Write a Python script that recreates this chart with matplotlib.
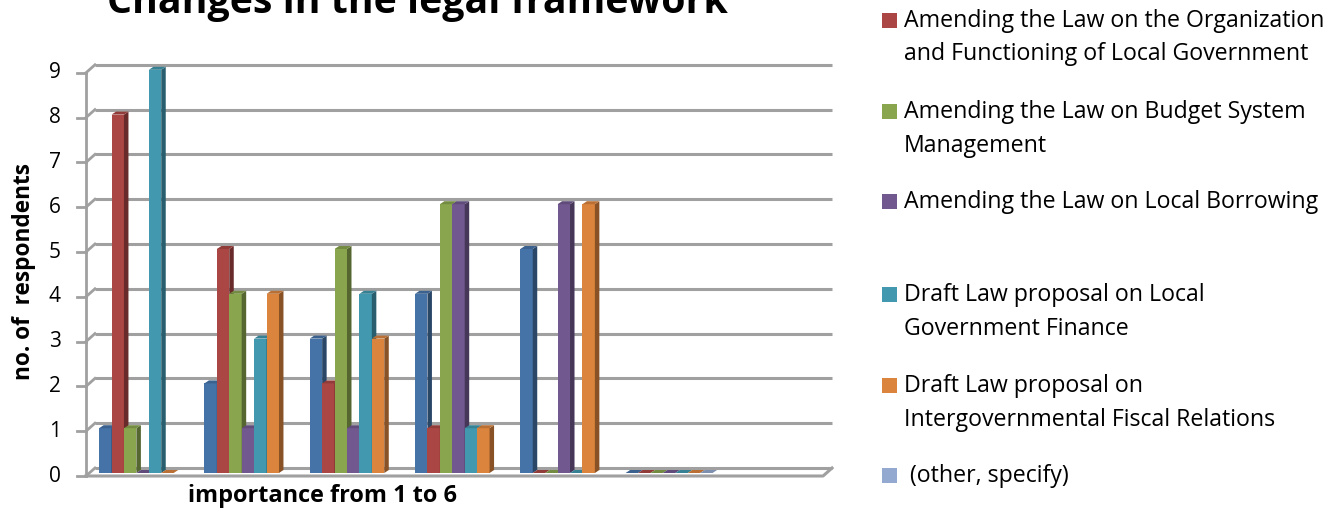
import numpy as np
import matplotlib
matplotlib.use("Agg")
import matplotlib.pyplot as plt
from matplotlib.patches import Polygon, Rectangle
from matplotlib.colors import to_rgb

FONT = ["Open Sans", "DejaVu Sans"]

# data
categories = ["1", "2", "3", "4", "5", "6", ""]
y_ticks = [0, 1, 2, 3, 4, 5, 6, 7, 8, 9]
series_names = [
    "",
    "Amending the Law on the Organization\nand Functioning of Local Government",
    "Amending the Law on Budget System\nManagement",
    "Amending the Law on Local Borrowing",
    "Draft Law proposal on Local\nGovernment Finance",
    "Draft Law proposal on\nIntergovernmental Fiscal Relations",
    " (other, specify)",
]
s_blue = [1, 2, 3, 4, 5, 0]
s_red = [8, 5, 2, 1, 0, 0]
s_green = [1, 4, 5, 6, 0, 0]
s_purple = [0, 1, 1, 6, 6, 0]
s_teal = [9, 3, 4, 1, 0, 0]
s_orange = [0, 4, 3, 1, 6, 0]
s_other = [np.nan, np.nan, np.nan, np.nan, np.nan, 0]
series = [s_blue, s_red, s_green, s_purple, s_teal, s_orange, s_other]
colors = ["#4572A7", "#AA4643", "#89A54E", "#71588F", "#4198AF", "#DB843D", "#93A9CF"]

W, H = 1332, 511
fig = plt.figure(figsize=(W / 100, H / 100), dpi=100)
renderer = fig.canvas.get_renderer()


def fit(t, target_px, horizontal=True):
    # scale font so the text spans target_px
    bb = t.get_window_extent(renderer)
    size = bb.width if horizontal else bb.height
    t.set_fontsize(t.get_fontsize() * target_px / size)
    return t.get_fontsize()


# pixel scale of the back wall
PXX, PXY = 105.3, 44.8
X0, Y0 = 147.6, 468.0
L, R, T, B = 40, 850, 40, 500
ax = fig.add_axes([L / W, (H - B) / H, (R - L) / W, (B - T) / H])
ax.set_xlim((L - X0) / PXX, (R - X0) / PXX)
ax.set_ylim((Y0 - B) / PXY, (Y0 - T) / PXY)
ax.axis("off")

grid_c = "#A0A0A0"
fdx, fdy = -9 / PXX, -8 / PXY          # front edge offset of walls / floor
bdx, bdy = -5 / PXX, -5 / PXY          # bar front plane offset
ddx, ddy = 4.5 / PXX, 3.0 / PXY        # bar depth
xl, xr = -0.5, len(categories) - 0.5

# back wall gridlines, side wall ticks
for v in y_ticks:
    ax.plot([xl, xr], [v, v], color=grid_c, lw=2.2, solid_capstyle="butt", zorder=1)
    ax.plot([xl + fdx, xl], [v + fdy, v], color=grid_c, lw=2, zorder=1)
    ax.plot([xl + fdx - 9 / PXX, xl + fdx], [v + fdy, v + fdy], color=grid_c, lw=2, zorder=1)
    ax.text(xl + fdx - 25 / PXX, v + fdy, str(v), ha="right", va="center",
            fontsize=15, family=FONT, color="#000000")
ax.plot([xl + fdx, xl + fdx], [fdy, y_ticks[-1] + fdy], color=grid_c, lw=2, zorder=1)
# floor
ax.plot([xl + fdx, xr + fdx, xr], [fdy, fdy, 0], color=grid_c, lw=2.2, zorder=1)


def shade(c, f):
    r, g, b = to_rgb(c)
    return (r * f, g * f, b * f)


w = 0.118
n = len(series)
for i in range(len(categories)):
    for k, (vals, c) in enumerate(zip(series, colors)):
        if i >= len(vals) or np.isnan(vals[i]):
            continue
        v = vals[i]
        x = i + (k - (n - 1) / 2) * w + bdx
        x0, x1 = x - w / 2, x + w / 2
        y0, y1 = bdy, bdy + v
        z = 2 + i * 0.1 + k * 0.01
        if v > 0:
            ax.bar(x, v, width=w, bottom=bdy, color=c, edgecolor="none", zorder=z)
            ax.add_patch(Polygon([(x1, y0), (x1 + ddx, y0 + ddy), (x1 + ddx, y1 + ddy), (x1, y1)],
                                 closed=True, facecolor=shade(c, 0.62), edgecolor="none", zorder=z))
        ax.add_patch(Polygon([(x0, y1), (x1, y1), (x1 + ddx, y1 + ddy), (x0 + ddx, y1 + ddy)],
                             closed=True, facecolor=shade(c, 0.85), edgecolor="none", zorder=z))

# title, axis titles
title = fig.text(107 / W, 1 - 13 / H, "Changes in the legal framework", ha="left", va="baseline",
                 fontsize=28, fontweight="bold", family=FONT)
fit(title, 618)
ylab = fig.text(24 / W, 1 - 272 / H, "no. of  respondents", rotation=90, ha="center", va="center",
                fontsize=16, fontweight="bold", family=FONT)
fit(ylab, 217, horizontal=False)
xlab = fig.text(322 / W, 1 - 496 / H, "importance from 1 to 6", ha="center", va="center",
                fontsize=16, fontweight="bold", family=FONT)
fit(xlab, 269)

# legend (first entry lies above the visible area)
probe = fig.text(0, 0, series_names[1].split("\n")[0], fontsize=15, family=FONT)
leg_size = fit(probe, 421)
probe.remove()
leg_base = [27, 118, 208, 301, 392, 482]
line_gap = 33.5
for name, c, yb in zip(series_names[1:], colors[1:], leg_base):
    fig.patches.append(Rectangle((882 / W, 1 - (yb + 1) / H), 15 / W, 15 / H,
                                 transform=fig.transFigure, facecolor=c, edgecolor="none"))
    for j, line in enumerate(name.split("\n")):
        fig.text(904 / W, 1 - (yb + j * line_gap) / H, line, ha="left", va="baseline",
                 fontsize=leg_size, family=FONT, color="#000000")

fig.savefig("out.png", dpi=100)
